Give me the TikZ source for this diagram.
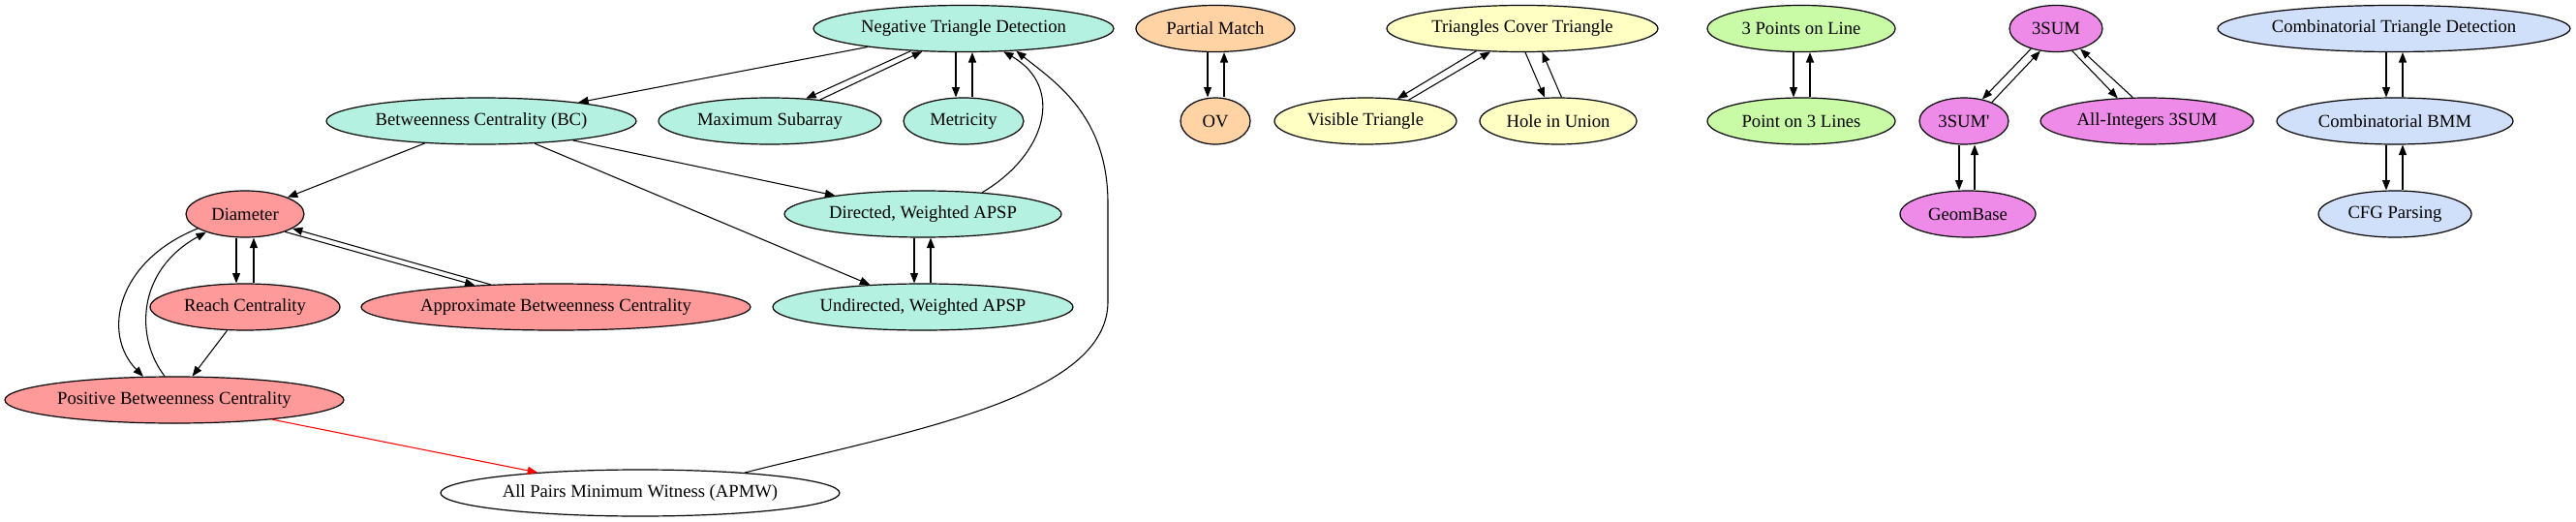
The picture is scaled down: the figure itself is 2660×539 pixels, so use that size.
\documentclass[tikz,border=0pt]{standalone}
\usepackage{fontspec}
\setmainfont{Liberation Serif}
\usetikzlibrary{shapes.geometric,arrows.meta}
\definecolor{cteal}{HTML}{B4F1E1}
\definecolor{cred}{HTML}{FF9A9A}
\definecolor{corange}{HTML}{FFD3A4}
\definecolor{cyellow}{HTML}{FFFFC4}
\definecolor{cgreen}{HTML}{C9FAA6}
\definecolor{cviolet}{HTML}{EE8AE8}
\definecolor{cblue}{HTML}{D1E0FA}
\definecolor{cedge}{HTML}{FF0000}
\begin{document}
\begin{tikzpicture}[x=0.75pt,y=-0.75pt,
  font=\fontsize{14}{16}\selectfont,
  nd/.style 2 args={ellipse, draw, line width=0.9pt, fill=#1, minimum width={#2*1.5pt}, minimum height=36pt, inner sep=0pt},
  arr/.style={-{Triangle[length=7.8pt,width=6pt]}, line width=0.8pt}]
\useasboundingbox (0,0) rectangle (2660,539);
% left cluster
\node[nd={cteal}{155}] (NTD) at (995,29.5) {Negative Triangle Detection};
\node[nd={cteal}{160}] (BC) at (497,125) {Betweenness Centrality (BC)};
\node[nd={cteal}{115}] (MS) at (795,125) {Maximum Subarray};
\node[nd={cteal}{62}] (MET) at (995,125) {Metricity};
\node[nd={cred}{61}] (DIAM) at (253,221) {Diameter};
\node[nd={cteal}{143}] (DIR) at (953,221) {Directed, Weighted APSP};
\node[nd={cred}{98}] (REACH) at (253,317) {Reach Centrality};
\node[nd={cred}{201}] (APX) at (574,317) {Approximate Betweenness Centrality};
\node[nd={cteal}{155}] (UND) at (953,317) {Undirected, Weighted APSP};
\node[nd={cred}{175}] (POS) at (180,413) {Positive Betweenness Centrality};
\node[nd={white}{206}] (APMW) at (661,509) {All Pairs Minimum Witness (APMW)};
% other clusters
\node[nd={corange}{82}] (PM) at (1255,29.5) {Partial Match};
\node[nd={corange}{36}] (OV) at (1255,125) {OV};
\node[nd={cyellow}{140}] (TCT) at (1572,29.5) {Triangles Cover Triangle};
\node[nd={cyellow}{94}] (VT) at (1410,125) {Visible Triangle};
\node[nd={cyellow}{81}] (HU) at (1609,125) {Hole in Union};
\node[nd={cgreen}{97}] (P3L) at (1860,29.5) {3 Points on Line};
\node[nd={cgreen}{97}] (P3Ls) at (1860,125) {Point on 3 Lines};
\node[nd={cviolet}{48}] (S3) at (2123,29.5) {3SUM};
\node[nd={cviolet}{46}] (S3p) at (2028,125) {3SUM\textquotesingle};
\node[nd={cviolet}{70}] (GB) at (2032,221) {GeomBase};
\node[nd={cviolet}{110}] (AI) at (2217,125) {All-Integers 3SUM};
\node[nd={cblue}{182}] (CTD) at (2472,29.5) {Combinatorial Triangle Detection};
\node[nd={cblue}{122}] (BMM) at (2473,125) {Combinatorial BMM};
\node[nd={cblue}{79}] (CFG) at (2473,221) {CFG Parsing};
% edges left
\draw[arr] (NTD) -- (BC);
\draw[arr] (NTD.203) -- (MS.32);
\draw[arr] (MS.23) -- (NTD.209);
\draw[arr] ([xshift=-6pt]NTD.south) -- ([xshift=-6pt]MET.north);
\draw[arr] ([xshift=6.75pt]MET.north) -- ([xshift=6.75pt]NTD.south);
\draw[arr] (BC) -- (DIAM);
\draw[arr] (BC) -- (DIR);
\draw[arr] (BC) -- (UND);
\draw[arr] (DIR.20) .. controls (1080,160) and (1100,90) .. (NTD.-30);
\draw[arr] ([xshift=-6.75pt]DIR.south) -- ([xshift=-6.75pt]UND.north);
\draw[arr] ([xshift=6pt]UND.north) -- ([xshift=6pt]DIR.south);
\draw[arr] ([xshift=-6.75pt]DIAM.south) -- ([xshift=-6.75pt]REACH.north);
\draw[arr] ([xshift=6.75pt]REACH.north) -- ([xshift=6.75pt]DIAM.south);
\draw[arr] (DIAM.-24) -- (APX.165);
\draw[arr] (APX.161) -- (DIAM.-17);
\draw[arr] (DIAM.197) .. controls (120,270) and (105,345) .. (POS.143.6);
\draw[arr] (POS.112.6) .. controls (140,350) and (140,280) .. (DIAM.205);
\draw[arr] (REACH) -- (POS);
\draw[arr, cedge] (POS) -- (APMW);
\draw[arr] (APMW.11) .. controls (940,445) and (1146,410) .. (1144,310) -- (1144,210) .. controls (1144,120) and (1090,85) .. (NTD.-23);
% edges right
\draw[arr] ([xshift=-6pt]PM.south) -- ([xshift=-6pt]OV.north);
\draw[arr] ([xshift=6.75pt]OV.north) -- ([xshift=6.75pt]PM.south);
\draw[arr] (TCT.206.8) -- (VT.35.2);
\draw[arr] (VT.26.4) -- (TCT.216.2);
\draw[arr] (TCT.277) -- (HU.120.7);
\draw[arr] (HU.82.9) -- (TCT.310);
\draw[arr] ([xshift=-6pt]P3L.south) -- ([xshift=-6pt]P3Ls.north);
\draw[arr] ([xshift=6.75pt]P3Ls.north) -- ([xshift=6.75pt]P3L.south);
\draw[arr] (S3.219.6) -- (S3p.50.2);
\draw[arr] (S3p.34.5) -- (S3.235.8);
\draw[arr] (S3.-54.6) -- (AI.142);
\draw[arr] (AI.121) -- (S3.-40.4);
\draw[arr] ([xshift=-3.75pt]S3p.south) -- ([xshift=-6.75pt]GB.north);
\draw[arr] ([xshift=5.25pt]GB.north) -- ([xshift=8.25pt]S3p.south);
\draw[arr] ([xshift=-6pt]CTD.south) -- ([xshift=-6.75pt]BMM.north);
\draw[arr] ([xshift=6pt]BMM.north) -- ([xshift=6.75pt]CTD.south);
\draw[arr] ([xshift=-6.75pt]BMM.south) -- ([xshift=-6.75pt]CFG.north);
\draw[arr] ([xshift=6pt]CFG.north) -- ([xshift=6pt]BMM.south);
\end{tikzpicture}
\end{document}
